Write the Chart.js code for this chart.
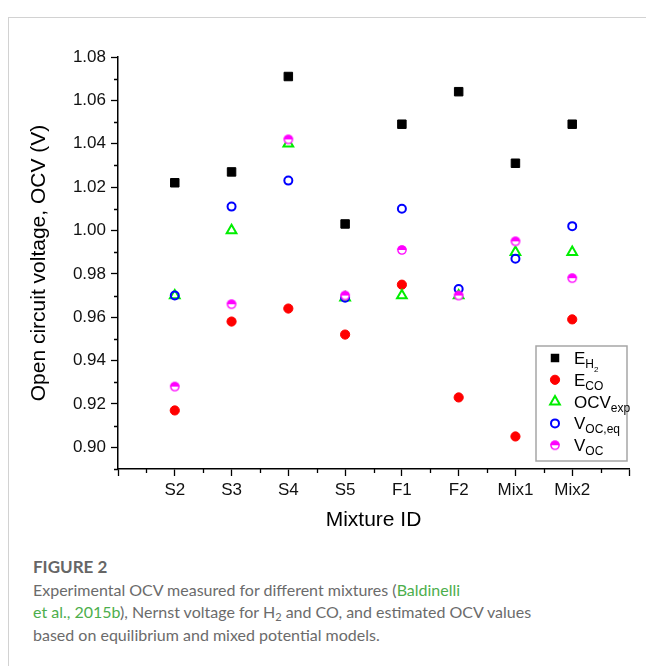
<!DOCTYPE html>
<html>
<head>
<meta charset="utf-8">
<script src="https://cdn.jsdelivr.net/npm/chart.js@4"></script>
<style>
  html, body { margin: 0; padding: 0; background: #fff; width: 646px; height: 666px; overflow: hidden; position: relative; }
  #frame { position: absolute; left: 8px; top: 17px; width: 700px; height: 700px; border-top: 1px solid #d2d2d2; border-left: 1px solid #d2d2d2; box-sizing: border-box; }
  #wrap { position: absolute; left: 0; top: 0; width: 646px; height: 540px; }
  #caption { position: absolute; left: 33px; top: 556px; font-family: Lato, "Open Sans", sans-serif; font-size: 16px; line-height: 22.5px; color: #6b6b6b; white-space: nowrap; }
  #caption .fig { font-weight: bold; font-size: 17px; color: #666; }
  #caption .ref { color: #4cae4c; }
  #caption sub { font-size: 11px; line-height: 0; vertical-align: -3px; }
</style>
</head>
<body>
<div id="frame"></div>
<div id="wrap"><canvas id="c" width="646" height="540"></canvas></div>
<div id="caption">
  <div class="fig">FIGURE 2</div>
  <div>Experimental OCV measured for different mixtures (<span class="ref">Baldinelli</span></div>
  <div><span class="ref">et al., 2015b</span>), Nernst voltage for H<sub>2</sub> and CO, and estimated OCV values</div>
  <div>based on equilibrium and mixed potential models.</div>
</div>
<script>
// ---- data ----
const mixtures = ['S2', 'S3', 'S4', 'S5', 'F1', 'F2', 'Mix1', 'Mix2'];
const eH2    = [1.022, 1.027, 1.071, 1.003, 1.049, 1.064, 1.031, 1.049];
const eCO    = [0.917, 0.958, 0.964, 0.952, 0.975, 0.923, 0.905, 0.959];
const ocvExp = [0.970, 1.000, 1.040, 0.969, 0.970, 0.970, 0.990, 0.990];
const vOCeq  = [0.970, 1.011, 1.023, 0.969, 1.010, 0.973, 0.987, 1.002];
const vOC    = [0.928, 0.966, 1.042, 0.970, 0.991, 0.970, 0.995, 0.978];
const yTickValues = [0.90, 0.92, 0.94, 0.96, 0.98, 1.00, 1.02, 1.04, 1.06, 1.08];
const yMinorValues = [0.89, 0.91, 0.93, 0.95, 0.97, 0.99, 1.01, 1.03, 1.05, 1.07];
const xTickValues = [0, 1, 2, 3, 4, 5, 6, 7, 8, 9];
const xMinorValues = [0.5, 1.5, 2.5, 3.5, 4.5, 5.5, 6.5, 7.5, 8.5];
// legend label parts: [main, subscript, sub-subscript]
const legendLabels = [['E', 'H', '2'], ['E', 'CO'], ['OCV', 'exp'], ['V', 'OC,eq'], ['V', 'OC']];

const FONT = '"Liberation Sans", Arial, sans-serif';

function toPoints(arr) { return arr.map((v, i) => ({ x: i + 1, y: v })); }

// half-filled magenta circle marker
function halfCircle(r) {
  const c = document.createElement('canvas');
  const s = Math.ceil(r * 2 + 4);
  c.width = s; c.height = s;
  const g = c.getContext('2d');
  const cx = s / 2, cy = s / 2;
  g.fillStyle = '#ffffff';
  g.beginPath(); g.arc(cx, cy, r, 0, Math.PI * 2); g.fill();
  g.fillStyle = '#ff00ff';
  g.beginPath(); g.arc(cx, cy, r, Math.PI, 0); g.closePath(); g.fill();
  g.strokeStyle = '#ff00ff'; g.lineWidth = 1.4;
  g.beginPath(); g.arc(cx, cy, r - 0.5, 0, Math.PI * 2); g.stroke();
  return c;
}
const halfImg = halfCircle(4.6);

const datasets = [
  { label: 'E_H2', data: toPoints(eH2), pointStyle: 'rect', radius: 6, backgroundColor: '#000000', borderColor: '#000000', borderWidth: 1, order: 5 },
  { label: 'E_CO', data: toPoints(eCO), pointStyle: 'circle', radius: 4.6, backgroundColor: '#ff0000', borderColor: '#ff0000', borderWidth: 1, order: 4 },
  { label: 'OCV_exp', data: toPoints(ocvExp), pointStyle: 'triangle', radius: 5.6, backgroundColor: 'rgba(0,0,0,0)', borderColor: '#00ee00', borderWidth: 2, order: 3 },
  { label: 'V_OC,eq', data: toPoints(vOCeq), pointStyle: 'circle', radius: 4, backgroundColor: 'rgba(0,0,0,0)', borderColor: '#0000ff', borderWidth: 2, order: 2 },
  { label: 'V_OC', data: toPoints(vOC), pointStyle: halfImg, radius: 5, backgroundColor: '#ff00ff', borderColor: '#ff00ff', borderWidth: 1, order: 1 }
];

const minorTicks = {
  id: 'minorTicks',
  afterDraw(chart) {
    const ctx = chart.ctx, xs = chart.scales.x, ys = chart.scales.y;
    ctx.save();
    ctx.strokeStyle = '#000'; ctx.lineWidth = 1.3;
    ctx.beginPath();
    xMinorValues.forEach(v => {
      const px = Math.round(xs.getPixelForValue(v)) + 0.5;
      ctx.moveTo(px, ys.bottom); ctx.lineTo(px, ys.bottom + 4);
    });
    yMinorValues.forEach(v => {
      const py = Math.round(ys.getPixelForValue(v)) + 0.5;
      ctx.moveTo(xs.left, py); ctx.lineTo(xs.left - 4, py);
    });
    ctx.stroke();
    ctx.restore();
  }
};

const customLegend = {
  id: 'customLegend',
  afterDraw(chart) {
    const ctx = chart.ctx;
    const bx = 536, by = 346, bw = 91, bh = 115;
    ctx.save();
    ctx.fillStyle = '#fff';
    ctx.fillRect(bx, by, bw, bh);
    ctx.strokeStyle = '#a6a6a6'; ctx.lineWidth = 1.5;
    ctx.strokeRect(bx, by, bw, bh);
    const mx = 555, tx = 574;
    legendLabels.forEach((parts, i) => {
      const ds = chart.data.datasets[i];
      const y = 358 + i * 21.8;
      // marker
      ctx.save();
      ctx.fillStyle = ds.backgroundColor; ctx.strokeStyle = ds.borderColor; ctx.lineWidth = ds.borderWidth;
      if (ds.pointStyle === 'rect') {
        const s = ds.radius * Math.SQRT1_2;
        ctx.fillRect(mx - s, y - s, 2 * s, 2 * s);
      } else if (ds.pointStyle === 'circle') {
        ctx.beginPath(); ctx.arc(mx, y, ds.radius, 0, Math.PI * 2);
        ctx.fill(); ctx.stroke();
      } else if (ds.pointStyle === 'triangle') {
        const r = ds.radius;
        ctx.beginPath();
        ctx.moveTo(mx, y - r);
        ctx.lineTo(mx + r * Math.sin(Math.PI / 3), y + r / 2);
        ctx.lineTo(mx - r * Math.sin(Math.PI / 3), y + r / 2);
        ctx.closePath(); ctx.stroke();
      } else {
        const img = ds.pointStyle;
        ctx.drawImage(img, mx - img.width / 2, y - img.height / 2);
      }
      ctx.restore();
      // text
      ctx.fillStyle = '#000';
      ctx.textBaseline = 'alphabetic';
      ctx.textAlign = 'left';
      let x = tx;
      const base = y + 6;
      ctx.font = '17px ' + FONT;
      ctx.fillText(parts[0], x, base);
      x += ctx.measureText(parts[0]).width;
      if (parts[1]) {
        ctx.font = '12px ' + FONT;
        ctx.fillText(parts[1], x, base + 4);
        x += ctx.measureText(parts[1]).width;
      }
      if (parts[2]) {
        ctx.font = '8px ' + FONT;
        ctx.fillText(parts[2], x, base + 8);
      }
    });
    ctx.restore();
  }
};

new Chart(document.getElementById('c'), {
  type: 'scatter',
  data: { datasets },
  options: {
    responsive: false,
    animation: false,
    events: [],
    layout: { padding: { top: 57, right: 17, left: 0, bottom: 7 } },
    plugins: { legend: { display: false }, tooltip: { enabled: false }, title: { display: false } },
    scales: {
      x: {
        type: 'linear', min: 0, max: 9,
        afterBuildTicks: s => { s.ticks = xTickValues.map(v => ({ value: v })); },
        afterFit: s => { s.height = 64; },
        grid: { display: true, drawOnChartArea: false, drawTicks: true, tickLength: 7, tickColor: '#000', tickWidth: 1.3 },
        border: { display: true, color: '#000', width: 1.5 },
        ticks: { color: '#111', font: { family: FONT, size: 17 }, padding: 4, maxRotation: 0, autoSkip: false,
                 callback: v => mixtures[v - 1] !== undefined ? mixtures[v - 1] : '' },
        title: { display: true, text: 'Mixture ID', color: '#000', font: { family: FONT, size: 21 }, padding: { top: 0, bottom: 0 } }
      },
      y: {
        type: 'linear', min: 0.89, max: 1.08,
        afterBuildTicks: s => { s.ticks = yTickValues.map(v => ({ value: v })); },
        afterFit: s => { s.width = 118; },
        grid: { display: true, drawOnChartArea: false, drawTicks: true, tickLength: 7, tickColor: '#000', tickWidth: 1.3 },
        border: { display: true, color: '#000', width: 1.5 },
        ticks: { color: '#111', font: { family: FONT, size: 17 }, padding: 5, autoSkip: false,
                 callback: v => Number(v).toFixed(2) },
        title: { display: true, text: 'Open circuit voltage, OCV (V)', color: '#000', font: { family: FONT, size: 21 }, padding: { top: 27, bottom: 0 } }
      }
    }
  },
  plugins: [minorTicks, customLegend]
});
</script>
</body>
</html>
